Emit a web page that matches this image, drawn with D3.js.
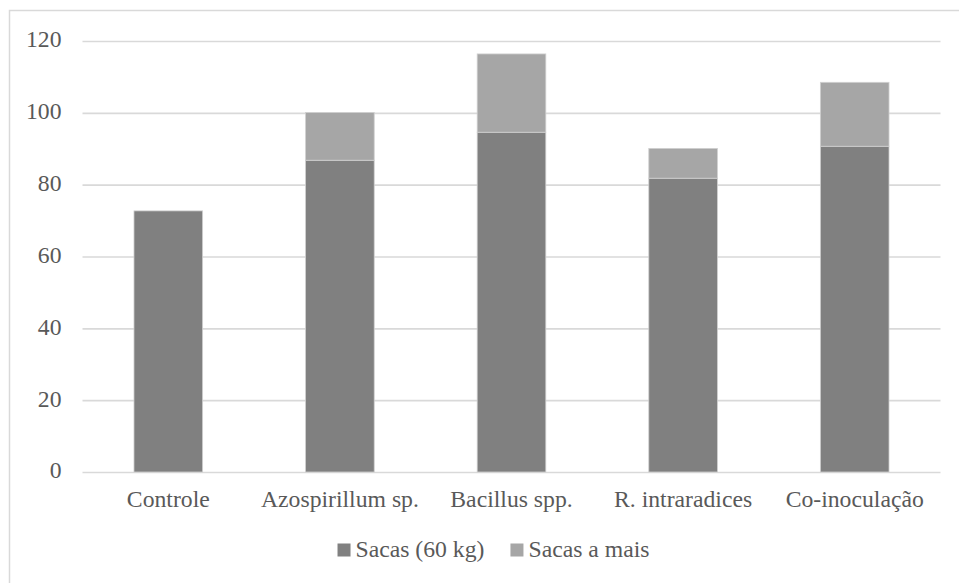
<!DOCTYPE html>
<html>
<head>
<meta charset="utf-8">
<script src="https://cdn.jsdelivr.net/npm/d3@7"></script>
<style>
  html, body { margin: 0; padding: 0; background: #fff; }
  svg { display: block; }
</style>
</head>
<body>
<svg id="chart" width="959" height="583"></svg>
<script>
// Treatments and yields (sacas de 60 kg por hectare)
const categories = ["Controle", "Azospirillum sp.", "Bacillus spp.", "R. intraradices", "Co-inoculação"];
const sacas = [72.7, 86.8, 94.6, 81.8, 90.7];
const sacasAMais = [0, 13.3, 21.8, 8.3, 17.8];
const seriesNames = ["Sacas (60 kg)", "Sacas a mais"];
const seriesColors = ["#808080", "#a6a6a6"];
const yTicks = [0, 20, 40, 60, 80, 100, 120];

const FONT = "Liberation Serif";
const TEXT_COLOR = "#595959";
const FONT_SIZE = 23.7;

const svg = d3.select("#chart");
const W = 959, H = 583;
const plot = { left: 82.5, right: 940.5, top: 41, bottom: 472 };

// Chart frame
svg.append("rect")
  .attr("x", 9.5).attr("y", 10.5)
  .attr("width", W + 10).attr("height", H + 10)
  .attr("fill", "#fff").attr("stroke", "#d9d9d9").attr("stroke-width", 1.5);

const x = d3.scaleBand()
  .domain(categories)
  .range([plot.left, plot.right])
  .paddingInner(0.6)
  .paddingOuter(0.3);

const y = d3.scaleLinear()
  .domain([0, 120])
  .range([plot.bottom, plot.top]);

// Horizontal gridlines and value labels
const yAxis = d3.axisLeft(y)
  .tickValues(yTicks)
  .tickSize(-(plot.right - plot.left))
  .tickPadding(21)
  .tickFormat(d3.format("d"));

const gy = svg.append("g")
  .attr("transform", `translate(${plot.left},0)`)
  .call(yAxis)
  .attr("font-family", FONT)
  .attr("font-size", FONT_SIZE);
gy.select(".domain").remove();
gy.selectAll(".tick line").attr("stroke", "#d9d9d9").attr("stroke-width", 1.6);
gy.selectAll(".tick text")
  .attr("font-family", FONT)
  .attr("font-size", FONT_SIZE)
  .attr("fill", TEXT_COLOR)
  .attr("dy", "0.25em");

// Stacked bars
const rows = categories.map((c, i) => ({ cat: c, [seriesNames[0]]: sacas[i], [seriesNames[1]]: sacasAMais[i] }));
const stacked = d3.stack().keys(seriesNames)(rows);

svg.append("g").selectAll("g")
  .data(stacked)
  .join("g")
  .attr("fill", (d, i) => seriesColors[i])
  .selectAll("rect")
  .data(d => d.filter(p => p[1] - p[0] > 0))
  .join("rect")
  .attr("x", d => x(d.data.cat))
  .attr("width", x.bandwidth())
  .attr("y", d => y(d[1]))
  .attr("height", d => y(d[0]) - y(d[1]))
  .attr("stroke", "#d0d0d0")
  .attr("stroke-width", 0.8);

// Category labels
const xAxis = d3.axisBottom(x).tickSize(0).tickPadding(0);
const gx = svg.append("g")
  .attr("transform", `translate(0,${plot.bottom})`)
  .call(xAxis)
  .attr("font-family", FONT)
  .attr("font-size", FONT_SIZE);
gx.select(".domain").remove();
gx.selectAll(".tick text")
  .attr("font-family", FONT)
  .attr("font-size", FONT_SIZE)
  .attr("fill", TEXT_COLOR)
  .attr("dy", null)
  .attr("y", 35);

// Legend
const legend = svg.append("g");
let lx = 0;
seriesNames.forEach((name, i) => {
  const item = legend.append("g").attr("transform", `translate(${lx},0)`);
  item.append("rect")
    .attr("x", 0).attr("y", -13.5)
    .attr("width", 13).attr("height", 13)
    .attr("fill", seriesColors[i]);
  const t = item.append("text")
    .attr("x", 18).attr("y", 0)
    .attr("font-family", FONT)
    .attr("font-size", FONT_SIZE)
    .attr("fill", TEXT_COLOR)
    .text(name);
  lx += 18 + t.node().getComputedTextLength() + 26;
});
const legendWidth = lx - 26;
legend.attr("transform", `translate(${493.5 - legendWidth / 2},557)`);
</script>
</body>
</html>
